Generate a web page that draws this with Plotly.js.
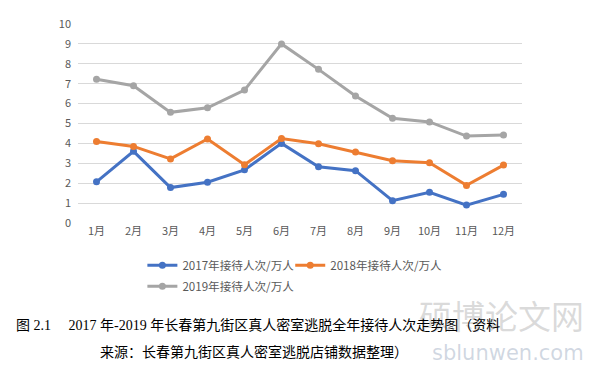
<!DOCTYPE html>
<html>
<head>
<meta charset="utf-8">
<script src="https://cdn.plot.ly/plotly-3.0.1.min.js"></script>
<style>html,body{margin:0;padding:0;background:#fff;}#chart{width:593px;height:367px;}</style>
</head>
<body>
<div id="chart"></div>
<script>
const months = ['1月','2月','3月','4月','5月','6月','7月','8月','9月','10月','11月','12月'];
const visits2017 = [2.07, 3.6, 1.78, 2.05, 2.67, 4.0, 2.83, 2.63, 1.12, 1.54, 0.9, 1.44];
const visits2018 = [4.1, 3.85, 3.22, 4.22, 2.93, 4.24, 3.98, 3.57, 3.13, 3.03, 1.89, 2.91];
const visits2019 = [7.22, 6.9, 5.56, 5.79, 6.68, 9.0, 7.72, 6.38, 5.26, 5.08, 4.37, 4.42];
const seriesNames = ['2017年接待人次/万人','2018年接待人次/万人','2019年接待人次/万人'];
const yTicks = [0,1,2,3,4,5,6,7,8,9,10];
const captionLine1 = '图 2.1　 2017 年-2019 年长春第九街区真人密室逃脱全年接待人次走势图（资料';
const captionLine2 = '来源：长春第九街区真人密室逃脱店铺数据整理）';
const watermark1 = '硕博论文网';
const watermark2 = 'sblunwen.com';

const colors = ['#4472C4','#ED7D31','#A5A5A5'];
const mk = (y, i, leg) => ({
  x: months, y: y, name: seriesNames[i], type: 'scatter', mode: 'lines+markers',
  line: {color: colors[i], width: 3}, marker: {color: colors[i], size: 7},
  legend: leg
});
const data = [mk(visits2017,0,'legend'), mk(visits2018,1,'legend2'), mk(visits2019,2,'legend3')];

const tickFont = {family: 'Noto Sans CJK SC, DejaVu Sans, sans-serif', size: 11, color: '#595959'};
const legFont = {family: 'Noto Sans CJK SC, DejaVu Sans, sans-serif', size: 11.6, color: '#595959'};
const legBase = {orientation: 'h', xanchor: 'left', yanchor: 'top', font: legFont, bgcolor: 'rgba(0,0,0,0)'};
const layout = {
  width: 593, height: 367,
  margin: {l: 78, r: 71, t: 24, b: 144},
  paper_bgcolor: '#fff', plot_bgcolor: '#fff',
  showlegend: true,
  xaxis: {type: 'category', range: [-0.5, 11.5], showgrid: false, zeroline: false,
          showline: false, ticks: '', tickfont: tickFont, fixedrange: true},
  yaxis: {range: [0, 10], tickvals: yTicks, showgrid: true, gridcolor: '#d9d9d9', gridwidth: 1,
          zeroline: false, showline: false, ticks: '', tickfont: tickFont, fixedrange: true,
          ticklabelstandoff: 6},
  legend: Object.assign({}, legBase, {x: 0.145, y: -0.14}),
  legend2: Object.assign({}, legBase, {x: 0.478, y: -0.14}),
  legend3: Object.assign({}, legBase, {x: 0.145, y: -0.245}),
  annotations: [
    {text: watermark1, xref: 'paper', yref: 'paper', x: 1.145, y: -0.46, xanchor: 'right', yanchor: 'middle',
     showarrow: false, font: {family: 'Noto Sans CJK SC, sans-serif', size: 33, color: 'rgba(150,150,150,0.35)'}},
    {text: watermark2, xref: 'paper', yref: 'paper', x: 1.145, y: -0.655, xanchor: 'right', yanchor: 'middle',
     showarrow: false, font: {family: 'DejaVu Sans, sans-serif', size: 21, color: 'rgba(120,140,170,0.35)'}},
    {text: captionLine1, xref: 'paper', yref: 'paper', x: -0.145, y: -0.513, xanchor: 'left', yanchor: 'middle',
     showarrow: false, font: {family: 'Liberation Serif, Noto Sans CJK SC, serif', size: 14, color: '#000'}},
    {text: captionLine2, xref: 'paper', yref: 'paper', x: 0.045, y: -0.65, xanchor: 'left', yanchor: 'middle',
     showarrow: false, font: {family: 'Liberation Serif, Noto Sans CJK SC, serif', size: 14, color: '#000'}}
  ]
};
Plotly.newPlot('chart', data, layout, {displayModeBar: false, staticPlot: true});
</script>
</body>
</html>
